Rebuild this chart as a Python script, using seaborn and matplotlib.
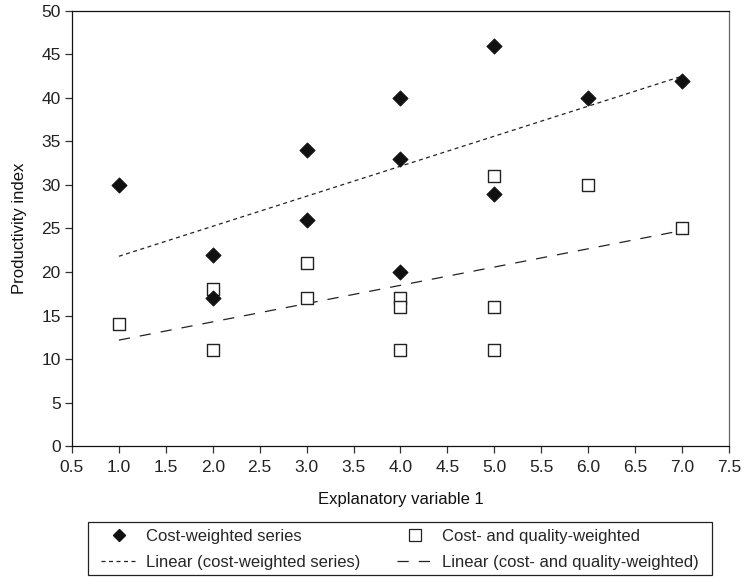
import matplotlib
matplotlib.use("Agg")
import matplotlib.pyplot as plt
import seaborn as sns
import pandas as pd
from matplotlib.lines import Line2D
from matplotlib.patches import Rectangle

# Cost-weighted series
cw_x = [1, 2, 2, 3, 3, 4, 4, 4, 5, 5, 6, 7]
cw_y = [30, 22, 17, 34, 26, 40, 33, 20, 46, 29, 40, 42]

# Cost- and quality-weighted series
cq_x = [1, 2, 2, 3, 3, 4, 4, 4, 5, 5, 5, 6, 7]
cq_y = [14, 18, 11, 21, 17, 17, 16, 11, 31, 16, 11, 30, 25]

x_ticks = [0.5, 1.0, 1.5, 2.0, 2.5, 3.0, 3.5, 4.0, 4.5, 5.0, 5.5, 6.0, 6.5, 7.0, 7.5]
y_ticks = [0, 5, 10, 15, 20, 25, 30, 35, 40, 45, 50]

labels = ["Cost-weighted series", "Cost- and quality-weighted",
          "Linear (cost-weighted series)", "Linear (cost- and quality-weighted)"]

sns.set_style("white")
plt.rcParams["font.family"] = ["Liberation Sans", "DejaVu Sans"]
plt.rcParams["font.size"] = 12

cw = pd.DataFrame({"x": cw_x, "y": cw_y})
cq = pd.DataFrame({"x": cq_x, "y": cq_y})

short_dash = (0, (3.2, 2.8))
long_dash = (0, (9, 8))

fig = plt.figure(figsize=(7.45, 5.77), dpi=100)
ax = fig.add_axes([0.0966, 0.227, 0.8819, 0.754])

# Linear trend lines
sns.regplot(data=cw, x="x", y="y", scatter=False, ci=None, ax=ax, truncate=True,
            line_kws=dict(color="#222222", lw=0.9, linestyle=short_dash))
sns.regplot(data=cq, x="x", y="y", scatter=False, ci=None, ax=ax, truncate=True,
            line_kws=dict(color="#222222", lw=0.9, linestyle=long_dash))

# Points
sns.scatterplot(data=cq, x="x", y="y", marker="s", s=66, color="white",
                edgecolor="#222222", linewidth=1.0, ax=ax, zorder=3)
sns.scatterplot(data=cw, x="x", y="y", marker="D", s=60, color="#111111",
                edgecolor="#111111", linewidth=0.6, ax=ax, zorder=4)

ax.set_xlim(0.5, 7.5)
ax.set_ylim(0, 50)
ax.set_xticks(x_ticks)
ax.set_xticklabels([f"{v:.1f}" for v in x_ticks])
ax.set_yticks(y_ticks)
ax.set_xlabel("Explanatory variable 1", fontsize=12, color="#111111", labelpad=12)
ax.set_ylabel("Productivity index", fontsize=12, color="#111111", labelpad=10)
ax.tick_params(axis="both", direction="out", length=5, width=0.9, colors="#333333",
               labelsize=12.5, labelcolor="#222222", pad=3)
ax.tick_params(axis="x", pad=5)
ax.tick_params(bottom=True, left=True)

for side in ["left", "bottom", "top"]:
    ax.spines[side].set_color("#111111")
    ax.spines[side].set_linewidth(0.9)
ax.spines["right"].set_color("#666666")
ax.spines["right"].set_linewidth(0.9)

handles = [
    Line2D([], [], marker="D", markersize=6, color="#111111", linestyle="none"),
    Line2D([], [], color="#222222", lw=0.9, linestyle=short_dash),
    Line2D([], [], marker="s", markersize=8, markerfacecolor="white",
           markeredgecolor="#222222", markeredgewidth=0.9, linestyle="none"),
    Line2D([], [], color="#222222", lw=0.9, linestyle=long_dash),
]
leg = fig.legend(handles, [labels[0], labels[2], labels[1], labels[3]],
                 loc="center", bbox_to_anchor=(0.537, 0.0477), ncol=2,
                 frameon=False, fontsize=12, handlelength=2.1, handletextpad=0.6,
                 columnspacing=2.2, borderpad=0.3, labelspacing=0.63,
                 borderaxespad=0.0)

# Legend frame
fig.patches.append(Rectangle((0.1181, 0.0035), 0.8376, 0.0919,
                             transform=fig.transFigure, fill=False,
                             edgecolor="#222222", linewidth=0.9))

fig.savefig("out.png", dpi=100)
